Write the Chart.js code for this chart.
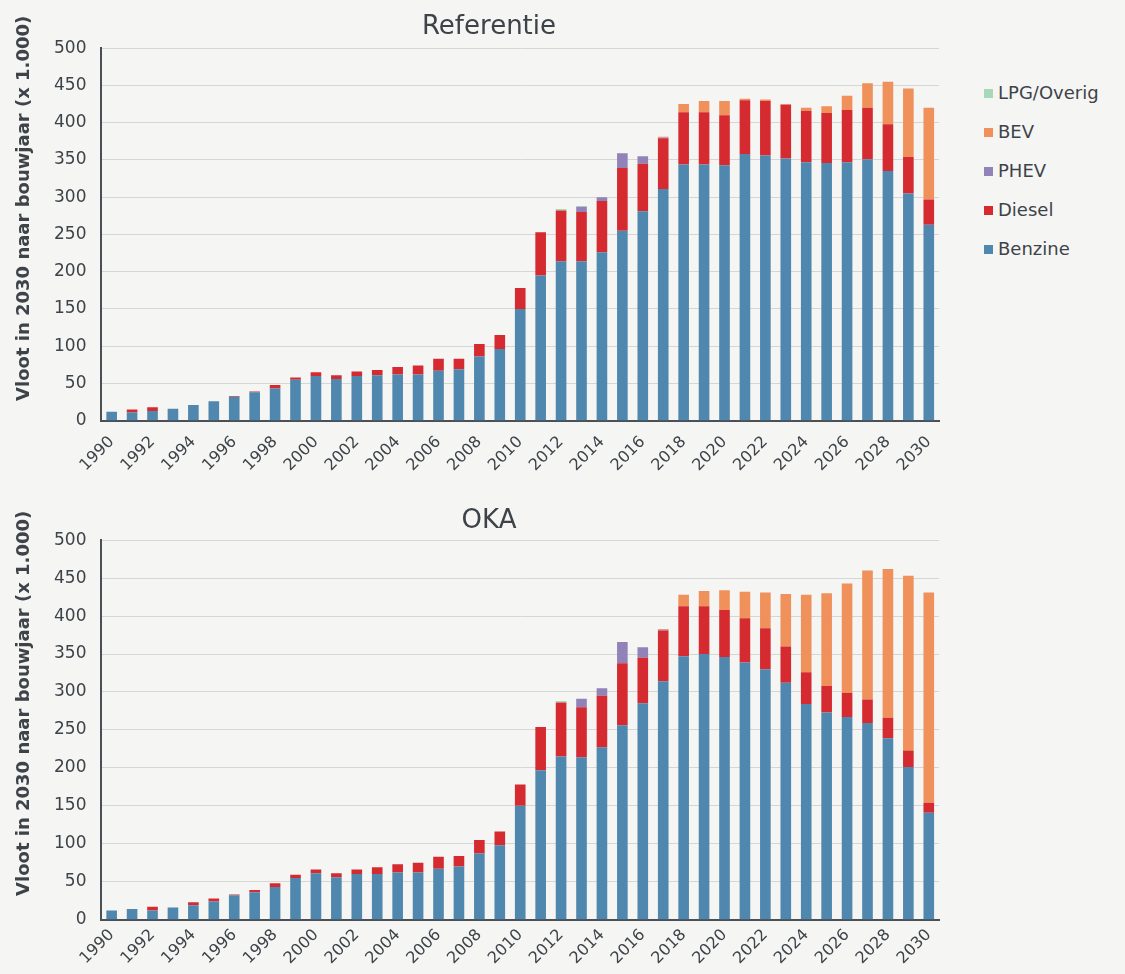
<!DOCTYPE html>
<html lang="nl">
<head>
  <meta charset="UTF-8">
  <title>Vloot in 2030 naar bouwjaar</title>
  <style>
    body { margin: 0; background: #f5f5f3; width: 1125px; height: 974px; position: relative; overflow: hidden; }
    canvas { position: absolute; left: 0; }
    #legend { position: absolute; left: 984px; top: 82px; font-family: "DejaVu Sans", sans-serif; font-size: 18px; color: #3d4349; }
    #legend div { height: 39px; line-height: 22px; }
    #legend span { display: inline-block; width: 9px; height: 9px; margin-right: 5px; vertical-align: 1px; }
  </style>
</head>
<body>
  <canvas id="refChart" width="960" height="490" style="top:0"></canvas>
  <canvas id="okaChart" width="960" height="484" style="top:490px"></canvas>
  <div id="legend"></div>

  <script src="https://cdn.jsdelivr.net/npm/chart.js"></script>
  <script>
    const years = [];
    for (let y = 1990; y <= 2030; y++) years.push(String(y));

    const seriesNames = ['Benzine', 'Diesel', 'PHEV', 'BEV', 'LPG/Overig'];
    const seriesColors = ['#4f87ae', '#d42a30', '#9183b8', '#f0905a', '#a6d8b9'];

    // Referentie
    const refBenzine = [12, 11, 13, 16, 21, 26, 32, 38, 43, 55, 60, 56, 60, 61, 62, 62, 67, 69, 86, 96,
      150, 195, 214, 214, 226, 255, 281, 311, 344, 344, 343, 358, 356, 352, 347, 346, 347, 351, 335, 305, 263];
    const refDiesel = [0, 4, 5, 0, 0, 0, 1, 1, 5, 3, 5, 5, 6, 7, 10, 12, 16, 14, 17, 19,
      28, 58, 68, 66, 69, 84, 64, 68, 70, 70, 67, 72, 73, 72, 69, 67, 70, 69, 63, 49, 34];
    const refPhev = [0, 0, 0, 0, 0, 0, 0, 0, 0, 0, 0, 0, 0, 0, 0, 0, 0, 0, 0, 0,
      0, 0, 0, 7, 5, 20, 10, 1, 0, 0, 0, 0, 0, 0, 0, 0, 0, 0, 0, 0, 0];
    const refBev = [0, 0, 0, 0, 0, 0, 0, 0, 0, 0, 0, 0, 0, 0, 0, 0, 0, 0, 0, 0,
      0, 0, 0, 0, 0, 0, 0, 1, 11, 15, 19, 2, 2, 1, 4, 9, 19, 33, 57, 92, 123];
    const refLpg = [0, 0, 0, 0, 0, 0, 0, 0, 0, 0, 0, 0, 0, 0, 0, 0, 0, 0, 0, 0,
      0, 0, 2, 1, 0, 0, 0, 0, 0, 0, 0, 0, 0, 0, 0, 0, 0, 0, 0, 0, 0];

    // OKA
    const okaBenzine = [12, 14, 12, 16, 19, 24, 32, 36, 43, 55, 61, 56, 60, 60, 62, 62, 67, 70, 87, 98,
      150, 197, 215, 214, 227, 256, 285, 314, 347, 350, 346, 339, 330, 312, 284, 273, 267, 259, 239, 201, 141];
    const okaDiesel = [0, 0, 5, 0, 4, 4, 1, 3, 5, 4, 5, 5, 6, 9, 11, 13, 16, 14, 18, 18,
      28, 57, 71, 66, 68, 82, 60, 67, 66, 63, 62, 58, 54, 48, 42, 35, 32, 31, 27, 22, 13];
    const okaPhev = [0, 0, 0, 0, 0, 0, 0, 0, 0, 0, 0, 0, 0, 0, 0, 0, 0, 0, 0, 0,
      0, 0, 0, 11, 10, 28, 14, 1, 0, 0, 0, 0, 0, 0, 0, 0, 0, 0, 0, 0, 0];
    const okaBev = [0, 0, 0, 0, 0, 0, 0, 0, 0, 0, 0, 0, 0, 0, 0, 0, 0, 0, 0, 0,
      0, 0, 0, 0, 0, 0, 0, 1, 15, 20, 26, 35, 47, 69, 102, 122, 144, 170, 196, 230, 277];
    const okaLpg = [0, 0, 0, 0, 0, 0, 0, 0, 0, 0, 0, 0, 0, 0, 0, 0, 0, 0, 0, 0,
      0, 0, 2, 0, 0, 0, 0, 0, 0, 0, 0, 0, 0, 0, 0, 0, 0, 0, 0, 0, 0];

    const yTicks = [0, 50, 100, 150, 200, 250, 300, 350, 400, 450, 500];
    const yTitle = 'Vloot in 2030 naar bouwjaar (x 1.000)';

    const textColor = '#3d4349';
    const axisColor = '#4b5056';

    // y axis title drawn by hand so it can sit a bit above the middle, like the original
    const yTitlePlugin = {
      id: 'yTitle',
      afterDraw(chart) {
        const { ctx, chartArea } = chart;
        ctx.save();
        ctx.translate(24, chartArea.top + chartArea.height * 0.43);
        ctx.rotate(-Math.PI / 2);
        ctx.font = 'bold 18px "DejaVu Sans"';
        ctx.fillStyle = textColor;
        ctx.textAlign = 'center';
        ctx.textBaseline = 'middle';
        ctx.fillText(yTitle, 0, 0);
        ctx.restore();
      }
    };

    function makeChart(id, title, series, pad) {
      const ctx = document.getElementById(id).getContext('2d');
      return new Chart(ctx, {
        type: 'bar',
        data: {
          labels: years,
          datasets: series.map((values, i) => ({
            label: seriesNames[i],
            data: values,
            backgroundColor: seriesColors[i],
            barPercentage: 0.52,
            categoryPercentage: 1
          }))
        },
        plugins: [yTitlePlugin],
        options: {
          responsive: false,
          animation: false,
          layout: { padding: { left: 39, right: 21, top: 0, bottom: pad.bottom } },
          plugins: {
            legend: { display: false },
            tooltip: { enabled: false },
            title: {
              display: true,
              text: title,
              color: textColor,
              font: { family: 'DejaVu Sans', size: 26, weight: 'normal' },
              padding: { top: pad.titleTop, bottom: pad.titleBottom }
            }
          },
          scales: {
            x: {
              stacked: true,
              grid: { display: false, drawTicks: false },
              border: { display: true, color: axisColor, width: 2 },
              ticks: {
                autoSkip: false,
                minRotation: 45,
                maxRotation: 45,
                padding: pad.tick,
                color: textColor,
                font: { family: 'DejaVu Sans', size: 16 },
                callback: (v, i) => (i % 2 === 0 ? years[i] : '')
              }
            },
            y: {
              stacked: true,
              min: 0,
              max: 500,
              afterBuildTicks: axis => { axis.ticks = yTicks.map(v => ({ value: v })); },
              grid: { color: '#d6d6d6', drawTicks: false },
              border: { display: true, color: axisColor, width: 2 },
              ticks: {
                padding: 15,
                color: textColor,
                font: { family: 'DejaVu Sans', size: 17 }
              }
            }
          }
        }
      });
    }

    makeChart('refChart', 'Referentie', [refBenzine, refDiesel, refPhev, refBev, refLpg],
      { titleTop: 12, titleBottom: 5, tick: 12, bottom: 3 });
    makeChart('okaChart', 'OKA', [okaBenzine, okaDiesel, okaPhev, okaBev, okaLpg],
      { titleTop: 16, titleBottom: 3, tick: 6, bottom: 0 });

    // legend, top entry is the top of the stack
    const legend = document.getElementById('legend');
    for (let i = seriesNames.length - 1; i >= 0; i--) {
      const row = document.createElement('div');
      const box = document.createElement('span');
      box.style.background = seriesColors[i];
      row.appendChild(box);
      row.appendChild(document.createTextNode(seriesNames[i]));
      legend.appendChild(row);
    }
  </script>
</body>
</html>
